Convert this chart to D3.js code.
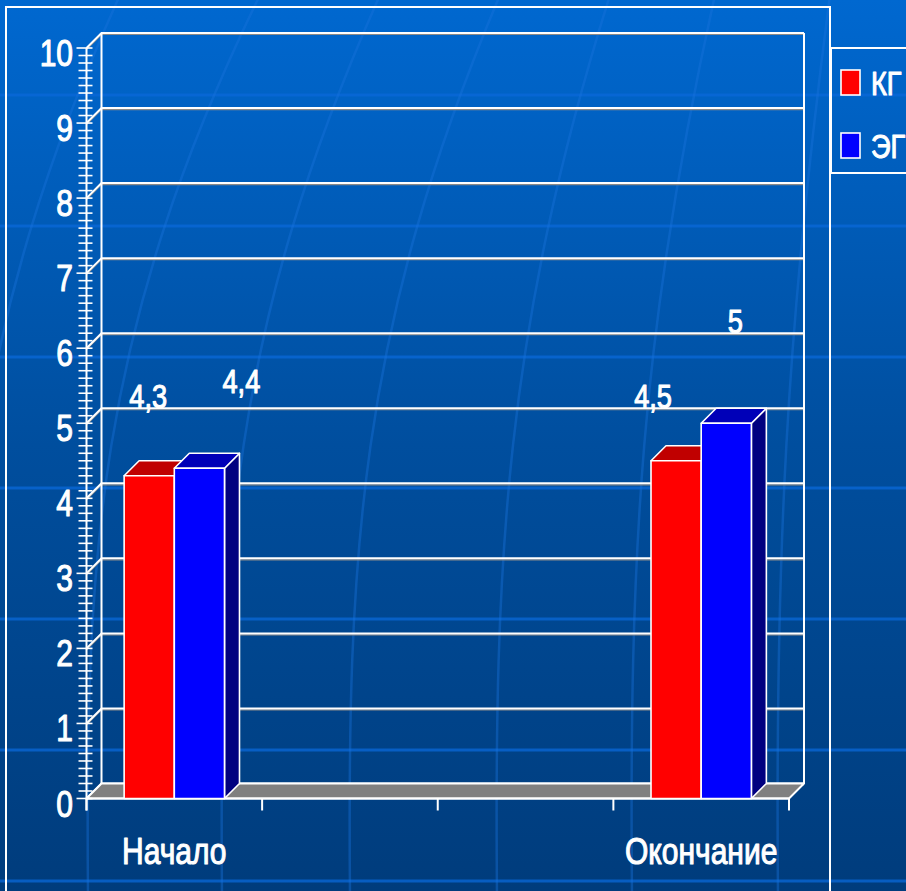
<!DOCTYPE html>
<html>
<head>
<meta charset="utf-8">
<script src="https://cdn.jsdelivr.net/npm/d3@7/dist/d3.min.js"></script>
<style>
  html, body { margin: 0; padding: 0; background: #004c98; }
  svg { display: block; }
  text { font-family: "Liberation Sans", Arial, sans-serif; font-weight: normal; fill: #fff; stroke: #fff; stroke-width: 1.1px; stroke-linejoin: round; }
</style>
</head>
<body>
<svg id="chart" width="906" height="891"></svg>
<script>
// Chart data
const categories = ["Начало", "", "", "Окончание"];
const seriesNames = ["КГ", "ЭГ"];
const kgValues = [4.3, null, null, 4.5];
const egValues = [4.4, null, null, 5];
const yTickValues = [0, 1, 2, 3, 4, 5, 6, 7, 8, 9, 10];

const seriesValues = [kgValues, egValues];
const palette = [
  { front: "#ff0000", top: "#c00000", side: "#900000" },
  { front: "#0000ff", top: "#0000b8", side: "#000080" }
];

const W = 906, H = 891;
const depth = 15;
const narrow = 0.8;   // horizontal squeeze for the condensed lettering
const svg = d3.select("#chart");

// condensed text helper: a group scaled horizontally around the anchor point
function ctext(parent, px, py, str, size, anchor) {
  const g = parent.append("g").attr("transform", `translate(${px},${py}) scale(${narrow},1)`);
  g.append("text").attr("x", 0).attr("y", 0)
    .attr("text-anchor", anchor || "start")
    .attr("font-size", size)
    .text(str);
  return g;
}

// --- background ---------------------------------------------------------
const defs = svg.append("defs");
const grad = defs.append("linearGradient").attr("id", "bg").attr("x1", 0).attr("y1", 0).attr("x2", 0).attr("y2", 1);
grad.append("stop").attr("offset", 0).attr("stop-color", "#0068d0");
grad.append("stop").attr("offset", 0.5).attr("stop-color", "#004e9e");
grad.append("stop").attr("offset", 1).attr("stop-color", "#003c7c");
svg.append("rect").attr("width", W).attr("height", H).attr("fill", "url(#bg)");

const deco = svg.append("g").attr("fill", "none");
d3.range(95, H + 10, 131).forEach(yy => {
  deco.append("line").attr("x1", 0).attr("x2", W).attr("y1", yy).attr("y2", yy)
    .attr("stroke", "#0a68d8").attr("stroke-opacity", 0.75).attr("stroke-width", 3);
});
[[-40, 120], [88, 260], [222, 380], [350, 500], [497, 610], [632, 715], [778, 830]].forEach(([xb, xt]) => {
  deco.append("path")
    .attr("d", `M${xb},${H + 5} C${xb - 3},560 ${xb + 8},330 ${xt},-5`)
    .attr("stroke", "#1a72dc").attr("stroke-opacity", 0.4).attr("stroke-width", 2.5);
});

// --- scales ------------------------------------------------------------
const y = d3.scaleLinear().domain([0, 10]).range([798.5, 48]);
const x = d3.scaleBand().domain(d3.range(categories.length)).range([86.5, 789]).paddingInner(0).paddingOuter(0);
const xs = d3.scaleBand().domain(d3.range(seriesNames.length)).range([0, x.bandwidth()]).paddingInner(0).paddingOuter(0.75);

const x0 = x.range()[0], x1 = x.range()[1];
const y0 = y(0);

// chart-area frame
svg.append("rect").attr("x", 6).attr("y", 7).attr("width", 824).attr("height", H + 20)
  .attr("fill", "none").attr("stroke", "#fff").attr("stroke-width", 2);

// --- walls & gridlines -------------------------------------------------
const walls = svg.append("g");
yTickValues.forEach(v => {
  const yy = y(v);
  walls.append("path")
    .attr("d", `M${x0},${yy + 1.5} L${x0 + depth},${yy - depth + 1.5} L${x1 + depth},${yy - depth + 1.5}`)
    .attr("fill", "none").attr("stroke", "#8a8a8a").attr("stroke-width", 1.2);
  walls.append("path")
    .attr("d", `M${x0},${yy} L${x0 + depth},${yy - depth} L${x1 + depth},${yy - depth}`)
    .attr("fill", "none").attr("stroke", "#fff").attr("stroke-width", 2);
});
walls.append("line").attr("x1", x0 + depth).attr("x2", x0 + depth)
  .attr("y1", y(10) - depth).attr("y2", y0 - depth).attr("stroke", "#fff").attr("stroke-width", 2);
walls.append("line").attr("x1", x1 + depth).attr("x2", x1 + depth)
  .attr("y1", y(10) - depth).attr("y2", y0 - depth).attr("stroke", "#fff").attr("stroke-width", 2);

// floor
svg.append("path")
  .attr("d", `M${x0},${y0} L${x1},${y0} L${x1 + depth},${y0 - depth} L${x0 + depth},${y0 - depth} Z`)
  .attr("fill", "#808080").attr("stroke", "#fff").attr("stroke-width", 2).attr("stroke-linejoin", "round");

// --- value axis ----------------------------------------------------------
const axis = svg.append("g");
axis.append("line").attr("x1", x0).attr("x2", x0).attr("y1", y(10)).attr("y2", y0 + 12)
  .attr("stroke", "#fff").attr("stroke-width", 2);
d3.range(0, 100.5, 1).map(i => i / 10).forEach(v => {
  const major = Math.abs(v - Math.round(v)) < 1e-9;
  axis.append("line")
    .attr("x1", major ? x0 - 10 : x0 - 8).attr("x2", x0 + 6)
    .attr("y1", y(v)).attr("y2", y(v))
    .attr("stroke", "#fff").attr("stroke-width", 1.6);
});
yTickValues.forEach(d => ctext(axis, 73, y(d) + 18, String(d), 37.5, "end"));

// --- category axis -------------------------------------------------------
const catAxis = svg.append("g");
catAxis.append("line").attr("x1", x0).attr("x2", x1).attr("y1", y0).attr("y2", y0)
  .attr("stroke", "#fff").attr("stroke-width", 2);
d3.range(categories.length + 1).forEach(i => {
  const xx = i < categories.length ? x(i) : x1;
  catAxis.append("line").attr("x1", xx).attr("x2", xx).attr("y1", y0).attr("y2", y0 + 12)
    .attr("stroke", "#fff").attr("stroke-width", 2);
});
categories.forEach((c, i) => ctext(catAxis, x(i) + x.bandwidth() / 2, 864, c, 37.5, "middle"));

// --- 3D columns ------------------------------------------------------------
const bars = svg.append("g").attr("stroke", "#fff").attr("stroke-width", 1.6).attr("stroke-linejoin", "round");
categories.forEach((c, ci) => {
  seriesValues.forEach((vals, si) => {
    const v = vals[ci];
    if (v == null) return;
    const bx = x(ci) + xs(si), bw = xs.bandwidth();
    const top = y(v);
    const col = palette[si];
    bars.append("path")
      .attr("d", `M${bx + bw},${y0} L${bx + bw + depth},${y0 - depth} L${bx + bw + depth},${top - depth} L${bx + bw},${top} Z`)
      .attr("fill", col.side);
    bars.append("path")
      .attr("d", `M${bx},${top} L${bx + depth},${top - depth} L${bx + bw + depth},${top - depth} L${bx + bw},${top} Z`)
      .attr("fill", col.top);
    bars.append("rect").attr("x", bx).attr("y", top).attr("width", bw).attr("height", y0 - top)
      .attr("fill", col.front);
  });
});

// --- data labels -------------------------------------------------------------
const labelNudge = [
  [[-1, -68], [42, -75]],
  [[0, -60], [0, -60]],
  [[0, -60], [0, -60]],
  [[-23, -53], [9, -90]]
];
const labels = svg.append("g");
categories.forEach((c, ci) => {
  seriesValues.forEach((vals, si) => {
    const v = vals[ci];
    if (v == null) return;
    const cx = x(ci) + xs(si) + xs.bandwidth() / 2;
    ctext(labels, cx + labelNudge[ci][si][0], y(v) + labelNudge[ci][si][1],
      String(v).replace(".", ","), 34, "middle");
  });
});

// --- legend ---------------------------------------------------------------
const legend = svg.append("g");
legend.append("rect").attr("x", 831).attr("y", 48).attr("width", 100).attr("height", 125)
  .attr("fill", "none").attr("stroke", "#fff").attr("stroke-width", 2);
seriesNames.forEach((name, i) => {
  const ly = 70 + i * 63;
  legend.append("rect").attr("x", 841).attr("y", ly).attr("width", 19).attr("height", 25)
    .attr("fill", palette[i].front).attr("stroke", "#fff").attr("stroke-width", 1.6);
  ctext(legend, 871, ly + 25, name, 34, "start");
});
</script>
</body>
</html>
